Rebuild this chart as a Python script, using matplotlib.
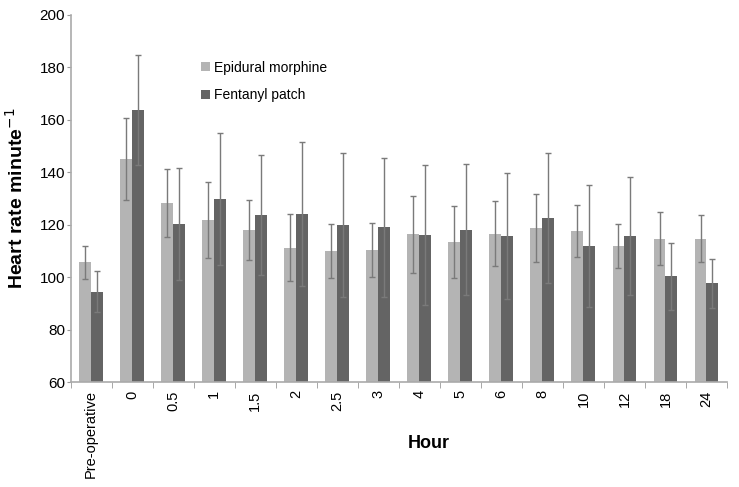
import matplotlib.pyplot as plt
import numpy as np

plt.rcParams['font.family'] = ['Liberation Sans', 'DejaVu Sans']

hours = ['Pre-operative', '0', '0.5', '1', '1.5', '2', '2.5', '3', '4', '5',
         '6', '8', '10', '12', '18', '24']

# mean heart rate
epidural = [105.6, 145.2, 128.4, 121.9, 118.0, 111.2, 110.0, 110.5, 116.3, 113.5,
            116.6, 118.9, 117.7, 111.9, 114.7, 114.7]
fentanyl = [94.5, 163.6, 120.4, 129.7, 123.7, 124.1, 120.0, 119.0, 116.0, 118.0,
            115.7, 122.6, 112.0, 115.7, 100.3, 97.6]

# SD
epidural_sd = [6.4, 15.6, 13.0, 14.5, 11.6, 12.8, 10.4, 10.3, 14.6, 13.7,
               12.3, 13.0, 9.9, 8.5, 10.2, 8.9]
fentanyl_sd = [7.9, 21.0, 21.3, 25.2, 22.8, 27.5, 27.5, 26.6, 26.7, 25.0,
               24.1, 24.7, 23.2, 22.5, 12.7, 9.2]

x = np.arange(len(hours))
w = 0.29

fig = plt.figure(figsize=(7.39, 4.87), dpi=100)
ax = fig.add_axes([70.5 / 739, 105 / 487, 656.5 / 739, 367 / 487])

ax.bar(x - w / 2, epidural, w, color='#b4b4b4', label='Epidural morphine', zorder=2)
ax.bar(x + w / 2, fentanyl, w, color='#646464', label='Fentanyl patch', zorder=2)

ax.errorbar(x - w / 2, epidural, yerr=epidural_sd, fmt='none', ecolor='#7a7a7a',
            elinewidth=1, capsize=2.5, capthick=1, zorder=3)
ax.errorbar(x + w / 2, fentanyl, yerr=fentanyl_sd, fmt='none', ecolor='#7a7a7a',
            elinewidth=1, capsize=2.5, capthick=1, zorder=3)

ax.set_xlim(-0.5, len(hours) - 0.5)
ax.set_ylim(60, 200)
ax.set_yticks(np.arange(60, 201, 20))
ax.tick_params(axis='y', labelsize=11, length=3, color='#999999', pad=1)

ax.set_xticks(x)
ax.set_xticklabels(hours, rotation=90, fontsize=10.5)
ax.set_xticks(np.arange(-0.5, len(hours)), minor=True)
ax.tick_params(axis='x', which='major', length=0, pad=6)
ax.tick_params(axis='x', which='minor', length=4, color='#999999')

for s in ['top', 'right']:
    ax.spines[s].set_visible(False)
for s in ['left', 'bottom']:
    ax.spines[s].set_color('#aaaaaa')
    ax.spines[s].set_linewidth(1.2)

ax.set_ylabel('Heart rate minute$^{-1}$', fontsize=14, fontweight='bold')
ax.yaxis.set_label_coords(-0.066, 0.5)
ax.set_xlabel('Hour', fontsize=13, fontweight='bold')
ax.xaxis.set_label_coords(0.545, -0.145)

ax.legend(loc='upper left', bbox_to_anchor=(0.18, 0.91), frameon=False,
          fontsize=10, handlelength=0.6, handleheight=0.6, handletextpad=0.3,
          labelspacing=1.0)

fig.savefig('out.png', dpi=100)
